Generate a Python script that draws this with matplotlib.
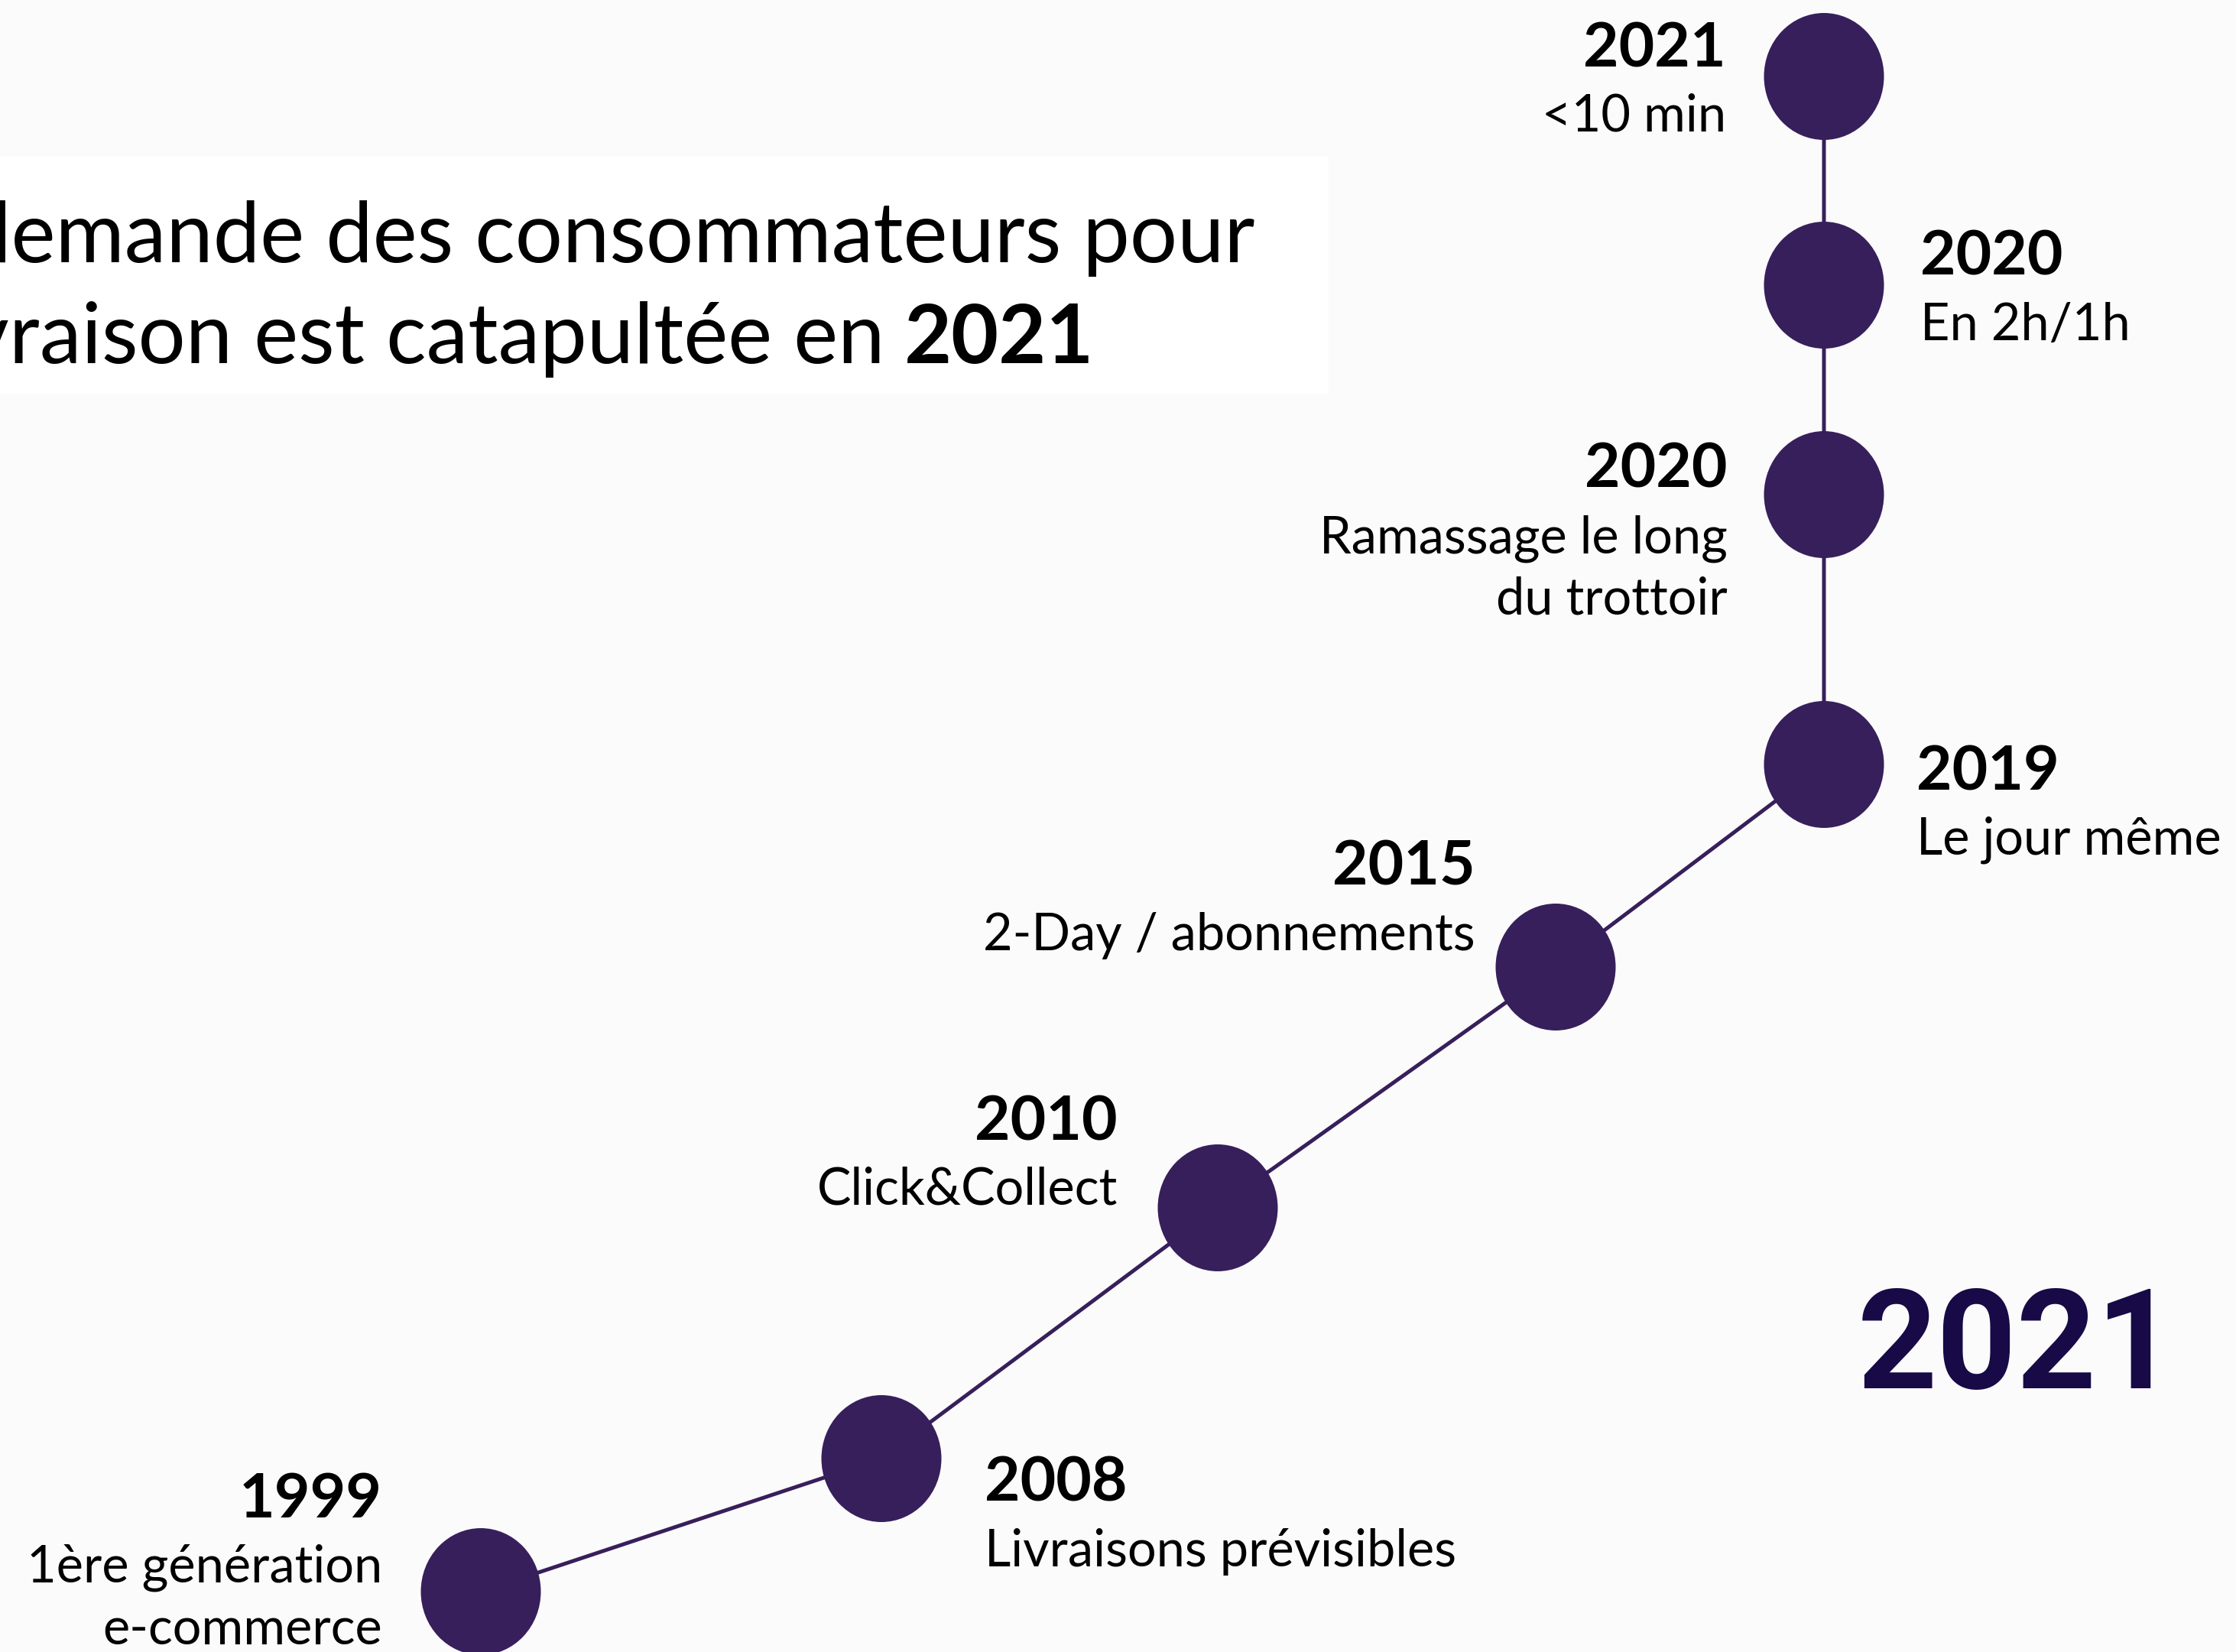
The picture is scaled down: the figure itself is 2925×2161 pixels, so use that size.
import matplotlib
matplotlib.use("Agg")
import matplotlib.pyplot as plt
from matplotlib.patches import Ellipse, Rectangle

# ---- data ----
years = ["1999", "2008", "2010", "2015", "2019", "2020", "2020", "2021"]
descriptions = ["1ère génération\ne-commerce", "Livraisons prévisibles", "Click&Collect",
                "2-Day / abonnements", "Le jour même", "Ramassage le long\ndu trottoir",
                "En 2h/1h", "<10 min"]
title_line1 = "La demande des consommateurs pour"
title_line2 = "la livraison est catapultée en"
title_bold = "2021"
highlight = "2021"

# ---- layout (pixel coordinates of the canvas) ----
W, H = 2925, 2161
node_x = [629, 1153, 1593, 2035, 2386, 2386, 2386, 2386]
node_y = [2082, 1908, 1580, 1265, 1000, 647, 373, 100]
label_ha = ["right", "left", "right", "right", "left", "right", "left", "right"]
label_x = [500, 1288, 1462, 1930, 2507, 2260, 2512, 2258]
label_y = [1985, 1964, 1491, 1158, 1033, 638, 360, 87]

NODE = "#371f5b"
BG = "#fcfbfc"
FONT = "Lato"

fig = plt.figure(figsize=(W / 100, H / 100), dpi=100)
fig.patch.set_facecolor(BG)
ax = fig.add_axes([0, 0, 1, 1])
ax.set_xlim(0, W)
ax.set_ylim(H, 0)
ax.axis("off")
ax.set_facecolor(BG)

# faint white panel behind the title
ax.add_patch(Rectangle((0, 205), 1738, 310, facecolor="white", edgecolor="none", zorder=0))

# connecting line
ax.plot(node_x, node_y, color=NODE, lw=3.6, zorder=1, solid_capstyle="butt")

# nodes
for x, y in zip(node_x, node_y):
    ax.add_patch(Ellipse((x, y), 157, 166, facecolor=NODE, edgecolor="none", zorder=2))

# labels
for yr, desc, ha, lx, ly in zip(years, descriptions, label_ha, label_x, label_y):
    ax.text(lx, ly, yr, ha=ha, va="baseline", fontsize=58, fontweight="bold",
            family=FONT, color="black", zorder=3)
    for i, line in enumerate(desc.split("\n")):
        ax.text(lx, ly + 85 + i * 81, line, ha=ha, va="baseline", fontsize=48,
                family=FONT, color="black", zorder=3)

# title
ax.text(1641, 343, title_line1, ha="right", va="baseline", fontsize=79, family=FONT,
        color="black", zorder=3)
ax.text(1158, 475, title_line2, ha="right", va="baseline", fontsize=79, family=FONT,
        color="black", zorder=3)
ax.text(1431, 475, title_bold, ha="right", va="baseline", fontsize=77, family=FONT,
        fontweight="bold", color="black", zorder=3)

# big highlight year
ax.text(2638, 1816, highlight, ha="center", va="baseline", fontsize=131, family="Roboto",
        fontweight="bold", color="#170a46", zorder=3)

fig.savefig("out.png", dpi=100, facecolor=BG)
